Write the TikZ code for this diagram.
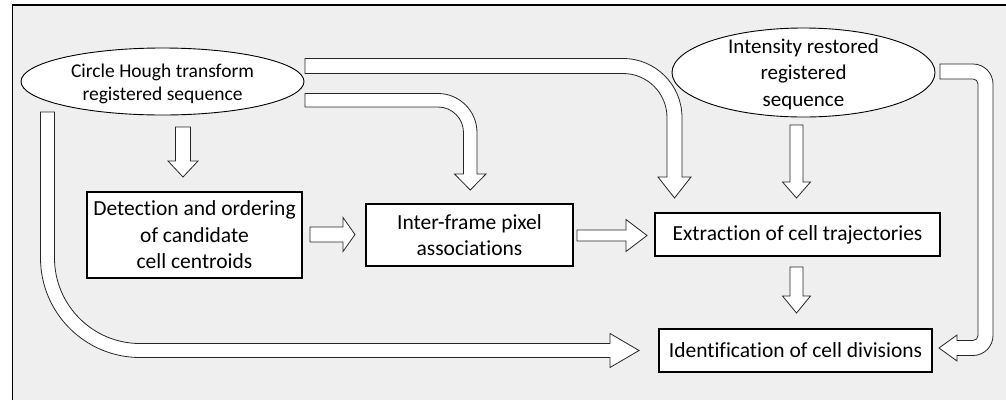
\documentclass[tikz,border=0pt]{standalone}
\usepackage{fontspec}
\setmainfont[Ligatures=NoCommon]{Carlito}
\usetikzlibrary{shapes.geometric}
\definecolor{bg}{HTML}{EFEFEF}
\tikzset{
  ell/.style={ellipse, draw=black, line width=0.9pt, fill=white, inner sep=0pt},
  box/.style={rectangle, draw=black, line width=1.1pt, fill=white, inner sep=0pt, align=center,
    font=\fontsize{21.5}{26.5}\selectfont},
  etext/.style={align=center, inner sep=0pt},
  blk/.style={draw=black!85, line width=0.8pt, fill=white, line join=miter}
}
\begin{document}
\begin{tikzpicture}[x=1pt, y=-1pt]
\useasboundingbox (0,0) rectangle (1006,400);
% background and frame
\fill[bg] (12.5,5) rectangle (1006,400);
\draw[line width=1.3pt] (12.5,400) -- (12.5,5) -- (1006,5);

% ellipses
\node[ell, minimum width=283pt, minimum height=67pt] (hough) at (162.5,81.5) {};
\node[etext, font=\fontsize{19.5}{23.5}\selectfont] (houghtxt) at (162.5,84) {Circle Hough transform\\registered sequence};
\node[ell, minimum width=263pt, minimum height=89pt] (intens) at (803.5,72.5) {};
\node[etext, font=\fontsize{21}{26.5}\selectfont] (intenstxt) at (803.5,74) {Intensity restored\\registered\\sequence};

% boxes
\node[box, minimum width=215pt, minimum height=86pt] (detect) at (194.5,235) {Detection and ordering\\of candidate\\cell centroids};
\node[box, minimum width=207pt, minimum height=62pt] (inter) at (469.5,235) {Inter-frame pixel\\associations};
\node[box, minimum width=285pt, minimum height=43pt] (extract) at (797.5,234.5) {Extraction of cell trajectories};
\node[box, minimum width=273pt, minimum height=43pt] (ident) at (795.5,350.5) {Identification of cell divisions};

% straight block arrows
% hough -> detect
\draw[blk] (175.5,127) -- (190.5,127) -- (190.5,161) -- (198,161) -- (183,177) -- (168,161) -- (175.5,161) -- cycle;
% detect -> inter
\draw[blk] (310,227) -- (343,227) -- (343,217.5) -- (355,234.5) -- (343,251.5) -- (343,242) -- (310,242) -- cycle;
% inter -> extract
\draw[blk] (577,230) -- (626,230) -- (626,219.5) -- (647,235.5) -- (626,251.5) -- (626,241) -- (577,241) -- cycle;
% intens -> extract
\draw[blk] (790,125) -- (803,125) -- (803,182) -- (810.5,182) -- (796.5,198) -- (782.5,182) -- (790,182) -- cycle;
% extract -> ident
\draw[blk] (790,267) -- (803,267) -- (803,296) -- (810.5,296) -- (796.5,313) -- (782.5,296) -- (790,296) -- cycle;

% bent block arrows
% hough -> extract (top band)
\draw[blk] (305,58.5) -- (623,58.5) .. controls (655.6,58.5) and (682,84.9) .. (682,117.5)
  -- (682,177) -- (691,177) -- (674.5,198) -- (658,177) -- (667,177) -- (667,117.5)
  .. controls (667,93.2) and (647.3,73.5) .. (623,73.5) -- (305,73.5) -- cycle;
% hough -> inter
\draw[blk] (305,93.5) -- (438,93.5) .. controls (459.5,93.5) and (477,111) .. (477,132.5)
  -- (477,174) -- (486,174) -- (470.25,190) -- (454.5,174) -- (463.5,174) -- (463.5,132.5)
  .. controls (463.5,118.4) and (452.1,107) .. (438,107) -- (305,107) -- cycle;
% intens -> ident (right)
\draw[blk] (940,64) -- (973,64) .. controls (984,64) and (993,73) .. (993,84)
  -- (993,335.5) .. controls (993,346.5) and (984,355.5) .. (973,355.5)
  -- (957,355.5) -- (957,361) -- (939,348) -- (957,335) -- (957,340.5) -- (973,340.5)
  .. controls (975.8,340.5) and (978,338.3) .. (978,335.5) -- (978,84)
  .. controls (978,81.2) and (975.8,79) .. (973,79) -- (940,79) -- cycle;
% hough -> ident (big U)
\draw[blk] (40.5,112) -- (40.5,258) .. controls (40.5,312.9) and (85.1,357.5) .. (140,357.5)
  -- (610,357.5) -- (610,367.5) -- (639,350.5) -- (610,333.5) -- (610,343.5) -- (140,343.5)
  .. controls (92.8,343.5) and (54.5,305.2) .. (54.5,258) -- (54.5,112) -- cycle;
\end{tikzpicture}
\end{document}
